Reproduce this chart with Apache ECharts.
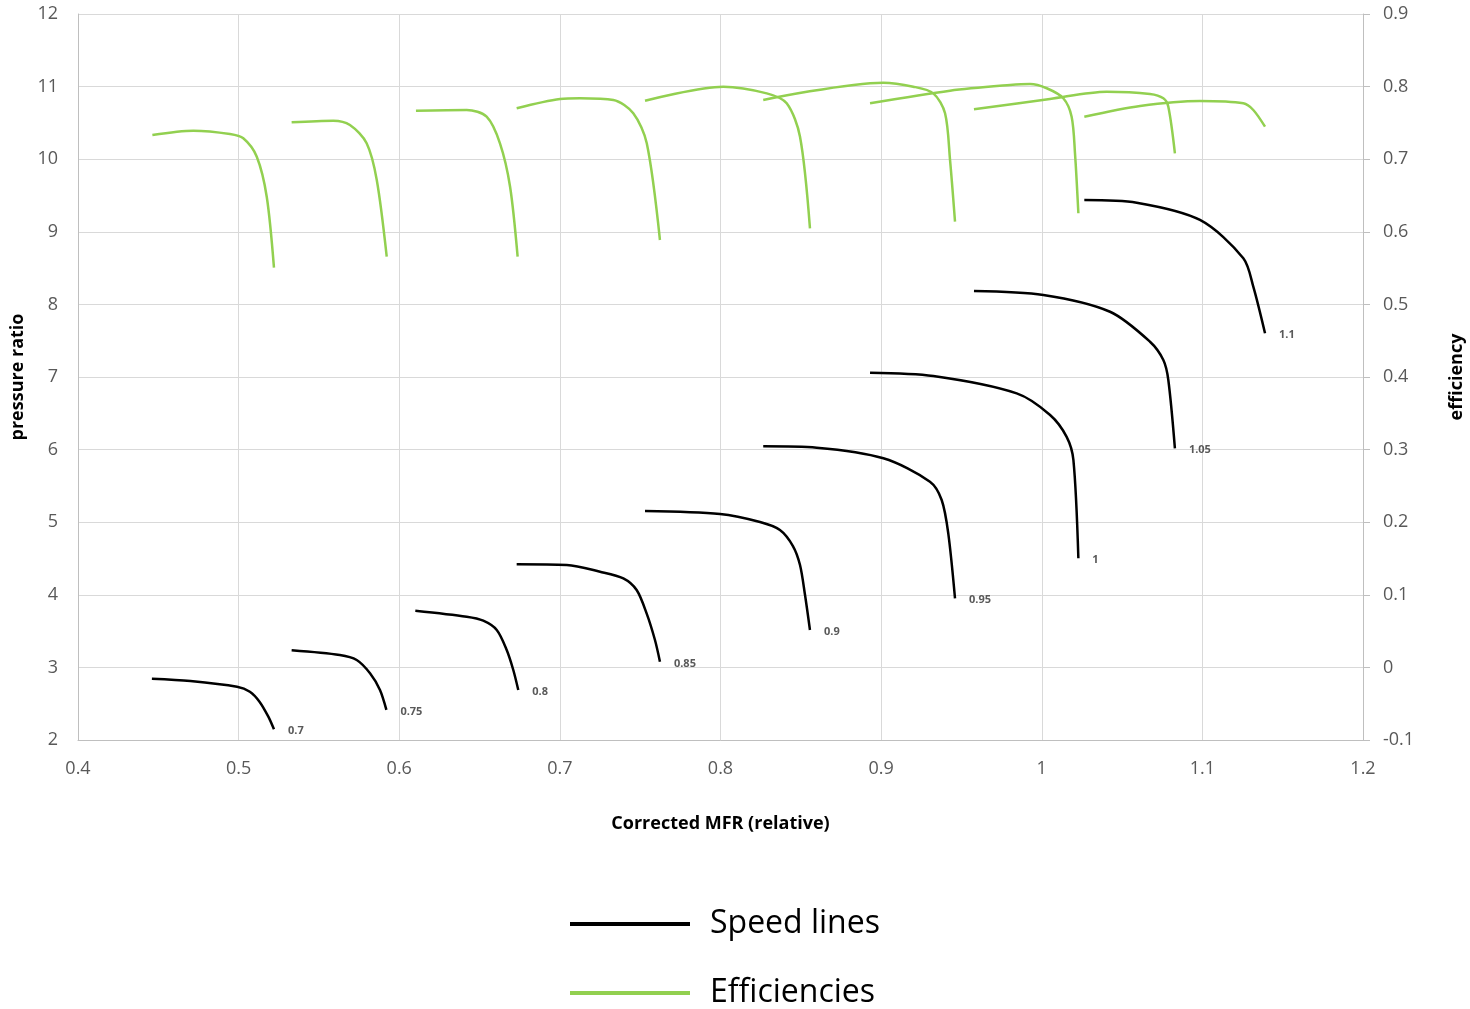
<!DOCTYPE html>
<html>
<head>
<meta charset="utf-8">
<script src="https://cdn.jsdelivr.net/npm/echarts@6/dist/echarts.min.js"></script>
<style>
html,body{margin:0;padding:0;background:#fff;}
#chart{width:1470px;height:1009px;}
</style>
</head>
<body>
<div id="chart"></div>
<script>
// ---- data ----
const speedLabels = ['0.7','0.75','0.8','0.85','0.9','0.95','1','1.05','1.1'];

const speed070 = [[0.446,2.844],[0.470,2.813],[0.499,2.734],[0.507,2.665],[0.513,2.528],[0.5185,2.321],[0.522,2.147]];
const speed075 = [[0.533,3.236],[0.563,3.171],[0.5735,3.102],[0.5818,2.919],[0.588,2.689],[0.592,2.414]];
const speed080 = [[0.610,3.781],[0.642,3.698],[0.6523,3.643],[0.6607,3.515],[0.6669,3.240],[0.671,2.964],[0.6741,2.689]];
const speed085 = [[0.6731,4.420],[0.7043,4.410],[0.725,4.318],[0.7395,4.227],[0.7478,4.066],[0.754,3.744],[0.7592,3.377],[0.7623,3.079]];
const speed090 = [[0.753,5.154],[0.7997,5.113],[0.8246,5.003],[0.837,4.893],[0.8451,4.672],[0.8495,4.410],[0.8526,4.0],[0.8557,3.515]];
const speed095 = [[0.8266,6.045],[0.8599,6.026],[0.9014,5.880],[0.9304,5.558],[0.9377,5.306],[0.9418,4.847],[0.946,3.952]];
const speed100 = [[0.8931,7.059],[0.9325,7.014],[0.9844,6.775],[1.0052,6.477],[1.0155,6.176],[1.0197,5.857],[1.0228,4.503]];
const speed105 = [[0.9578,8.185],[1.001,8.130],[1.0425,7.899],[1.0674,7.486],[1.0757,7.234],[1.0788,6.959],[1.0829,6.018]];
const speed110 = [[1.0265,9.438],[1.0591,9.401],[1.0985,9.163],[1.1255,8.635],[1.1317,8.244],[1.139,7.602]];

const eff070 = [[0.4463,0.7333],[0.4718,0.7393],[0.4946,0.7347],[0.5029,0.7288],[0.5113,0.7034],[0.5175,0.6483],[0.522,0.5506]];
const eff075 = [[0.533,0.7508],[0.5589,0.7530],[0.5693,0.7471],[0.5797,0.7219],[0.586,0.6713],[0.5922,0.5657]];
const eff080 = [[0.6104,0.7668],[0.642,0.7678],[0.6544,0.7585],[0.6627,0.7219],[0.669,0.6621],[0.6737,0.5657]];
const eff085 = [[0.6731,0.7701],[0.7001,0.7829],[0.7125,0.7839],[0.7333,0.7815],[0.7457,0.7632],[0.7541,0.7219],[0.7623,0.5887]];
const eff090 = [[0.753,0.7806],[0.8017,0.7999],[0.8288,0.7907],[0.8412,0.7770],[0.8495,0.7310],[0.8557,0.6048]];
const eff095 = [[0.8266,0.7815],[0.9013,0.8054],[0.92,0.7999],[0.9325,0.7907],[0.9398,0.7632],[0.9429,0.699],[0.946,0.6139]];
const eff100 = [[0.8931,0.777],[0.9429,0.7943],[0.9802,0.8022],[0.9927,0.8036],[1.0031,0.7977],[1.0134,0.7839],[1.0186,0.7585],[1.0207,0.7081],[1.0228,0.6255]];
const eff105 = [[0.9578,0.7687],[1.0051,0.7830],[1.0404,0.793],[1.0674,0.7898],[1.0757,0.7839],[1.0788,0.7723],[1.0829,0.7081]];
const eff110 = [[1.0265,0.7585],[1.0612,0.7733],[1.0985,0.7802],[1.1255,0.777],[1.1317,0.7678],[1.139,0.7448]];

const speedLines = [speed070,speed075,speed080,speed085,speed090,speed095,speed100,speed105,speed110];
const effLines = [eff070,eff075,eff080,eff085,eff090,eff095,eff100,eff105,eff110];

// ---- chart ----
const chart = echarts.init(document.getElementById('chart'));
const FONT = '"Open Sans", "Noto Sans", sans-serif';
const series = [];
speedLines.forEach((d, i) => {
  series.push({
    name: 'Speed lines', type: 'line', xAxisIndex: 0, yAxisIndex: 0,
    data: d, showSymbol: false, smooth: 0.3,
    color: '#000000',
    lineStyle: { color: '#000000', width: 2.5 },
    endLabel: {
      show: true, formatter: speedLabels[i],
      fontFamily: FONT, fontSize: 11, fontWeight: 'bold', color: '#595959',
      distance: 14, offset: [0, 2]
    },
    z: 3
  });
});
effLines.forEach((d) => {
  series.push({
    name: 'Efficiencies', type: 'line', xAxisIndex: 0, yAxisIndex: 1,
    data: d, showSymbol: false, smooth: 0.3,
    color: '#92d050',
    lineStyle: { color: '#92d050', width: 2.5 },
    z: 2
  });
});

const axisLabelStyle = { fontFamily: FONT, fontSize: 18, color: '#595959' };

chart.setOption({
  animation: false,
  backgroundColor: '#ffffff',
  grid: { left: 78, right: 107, top: 14, bottom: 269, containLabel: false, outerBoundsMode: 'none' },
  legend: {
    orient: 'vertical', left: 570, top: 908, height: 140, padding: 0,
    icon: 'rect', itemWidth: 120, itemHeight: 4, itemGap: 37,
    data: ['Speed lines', 'Efficiencies'],
    textStyle: { fontFamily: FONT, fontSize: 32, color: '#000', lineHeight: 30, padding: [0, 0, 0, 15] }
  },
  xAxis: {
    type: 'value', min: 0.4, max: 1.2, interval: 0.1,
    name: 'Corrected MFR (relative)', nameLocation: 'middle', nameGap: 75,
    nameTextStyle: { fontFamily: FONT, fontSize: 18, fontWeight: 'bold', color: '#000' },
    axisLine: { show: true, onZero: false, lineStyle: { color: '#bfbfbf', width: 1 } },
    axisTick: { show: false },
    axisLabel: Object.assign({ margin: 20 }, axisLabelStyle),
    splitLine: { show: true, lineStyle: { color: '#d9d9d9', width: 1 } }
  },
  yAxis: [
    {
      type: 'value', position: 'left', min: 2, max: 12, interval: 1,
      name: 'pressure ratio', nameLocation: 'middle', nameGap: 44, nameRotate: 90,
      nameTextStyle: { fontFamily: FONT, fontSize: 18, fontWeight: 'bold', color: '#000' },
      axisLine: { show: true, onZero: false, lineStyle: { color: '#bfbfbf', width: 1 } },
      axisTick: { show: false },
      axisLabel: Object.assign({ margin: 20 }, axisLabelStyle),
      splitLine: { show: true, lineStyle: { color: '#d9d9d9', width: 1 } }
    },
    {
      type: 'value', position: 'right', min: -0.1, max: 0.9, interval: 0.1,
      name: 'efficiency', nameLocation: 'middle', nameGap: 85, nameRotate: 90,
      nameTextStyle: { fontFamily: FONT, fontSize: 18, fontWeight: 'bold', color: '#000' },
      axisLine: { show: true, onZero: false, lineStyle: { color: '#bfbfbf', width: 1 } },
      axisTick: { show: true, length: 7, lineStyle: { color: '#bfbfbf' } },
      axisLabel: Object.assign({ margin: 20 }, axisLabelStyle),
      splitLine: { show: false }
    }
  ],
  series: series
});
</script>
</body>
</html>
